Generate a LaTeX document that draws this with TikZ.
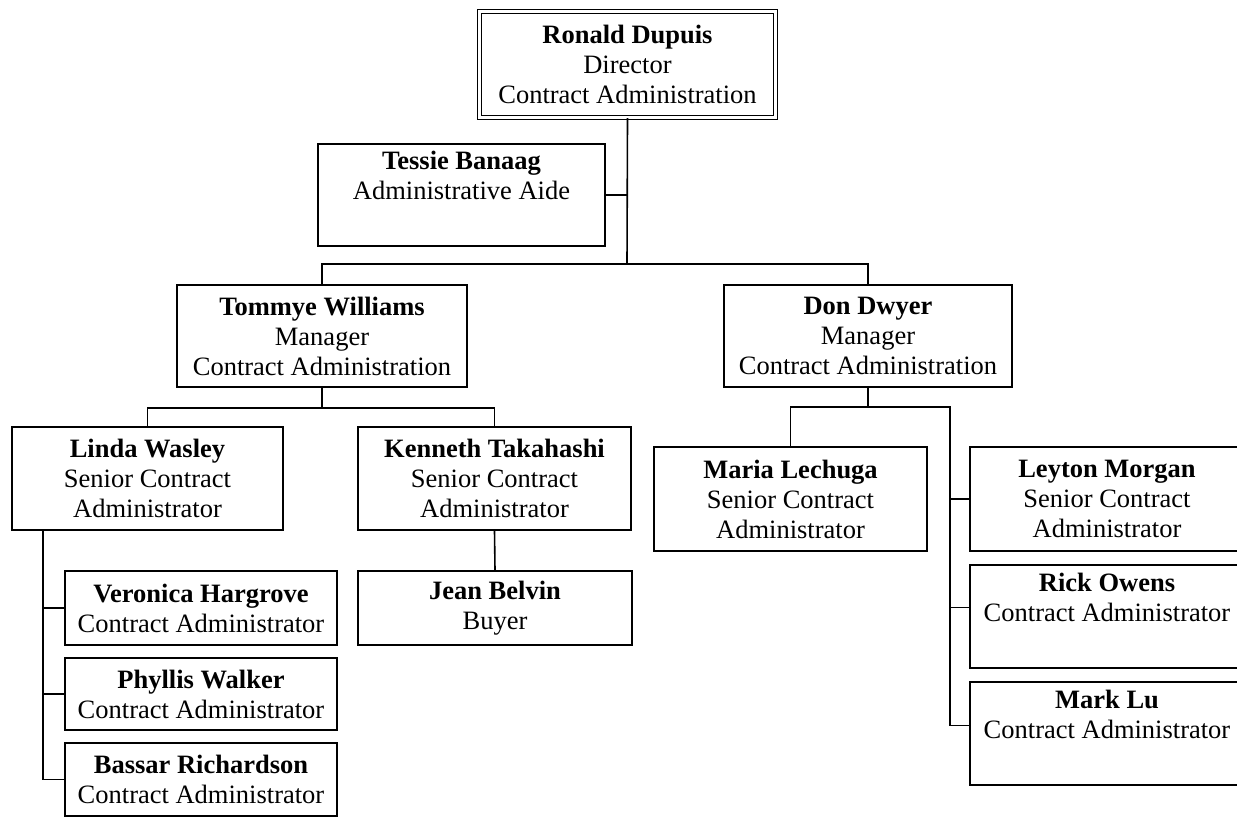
\documentclass[tikz,border=0pt]{standalone}
\usepackage{fontspec}
\setmainfont{Liberation Serif}
\usetikzlibrary{positioning}

\begin{document}
\begin{tikzpicture}[
    x=1pt, y=-1pt,
    every node/.style={font=\fontsize{26.5}{30}\selectfont},
    staffbox/.style={
        draw=black, fill=white, line width=1.6pt,
        align=center, inner sep=0pt
    },
    headbox/.style={
        staffbox, double, double distance=2.6pt, line width=1.4pt
    },
    linkline/.style={
        line width=1.6pt, black
    }
]
\useasboundingbox (0,0) rectangle (1237,817);

% Director and aide
\node[headbox, minimum width=296pt, minimum height=106pt] (ronald) at (627.5,64.5)
    {\textbf{Ronald Dupuis}\\Director\\Contract Administration};
\node[staffbox, minimum width=287pt, minimum height=102pt] (tessie) at (461.5,195)
    {\textbf{Tessie Banaag}\\Administrative Aide\\\strut};

% Managers
\node[staffbox, minimum width=290pt, minimum height=102pt] (tommye) at (322,336)
    {\textbf{Tommye Williams}\\Manager\\Contract Administration};
\node[staffbox, minimum width=288pt, minimum height=102pt] (don) at (868,336)
    {\textbf{Don Dwyer}\\Manager\\Contract Administration};

% Tommye Williams group (left)
\node[staffbox, minimum width=271pt, minimum height=103pt] (linda) at (147.5,478.5)
    {\textbf{Linda Wasley}\\Senior Contract\\Administrator};
\node[staffbox, minimum width=273pt, minimum height=103pt] (kenneth) at (494.5,478.5)
    {\textbf{Kenneth Takahashi}\\Senior Contract\\Administrator};
\node[staffbox, minimum width=274pt, minimum height=74pt] (jean) at (495,608)
    {\textbf{Jean Belvin}\\Buyer};
\node[staffbox, minimum width=272pt, minimum height=74pt] (veronica) at (201,608)
    {\textbf{Veronica Hargrove}\\Contract Administrator};
\node[staffbox, minimum width=272pt, minimum height=72pt] (phyllis) at (201,694)
    {\textbf{Phyllis Walker}\\Contract Administrator};
\node[staffbox, minimum width=272pt, minimum height=73pt] (bassar) at (201,779.5)
    {\textbf{Bassar Richardson}\\Contract Administrator};

% Don Dwyer group (right)
\node[staffbox, minimum width=273pt, minimum height=104pt] (maria) at (790.5,499)
    {\textbf{Maria Lechuga}\\Senior Contract\\Administrator};
\node[staffbox, minimum width=274pt, minimum height=104pt] (leyton) at (1107,499)
    {\textbf{Leyton Morgan}\\Senior Contract\\Administrator};
\node[staffbox, minimum width=274pt, minimum height=103pt] (rick) at (1107,616.5)
    {\textbf{Rick Owens}\\Contract Administrator\\\strut};
\node[staffbox, minimum width=274pt, minimum height=103pt] (mark) at (1107,733.5)
    {\textbf{Mark Lu}\\Contract Administrator\\\strut};

% Junction points
\coordinate (topbus)   at (627,264);
\coordinate (leftbus)  at (322,408);
\coordinate (lindastem) at (43,530);
\coordinate (donbus)   at (868,407);
\coordinate (donstem)  at (950,407);

% Connectors
\draw[linkline] (ronald.south) -- (topbus);
\draw[linkline] (tessie.east) -- (tessie.east -| topbus);
\draw[linkline] (tommye.north) |- (topbus) -| (don.north);

\draw[linkline] (tommye.south) -- (leftbus);
\draw[linkline] (linda.north) |- (leftbus) -| (kenneth.north);
\draw[linkline] (kenneth.south) -- (jean.north);
\draw[linkline] (lindastem) |- (bassar.west);
\draw[linkline] (veronica.west) -- (veronica.west -| lindastem);
\draw[linkline] (phyllis.west) -- (phyllis.west -| lindastem);

\draw[linkline] (don.south) -- (donbus);
\draw[linkline] (maria.north) |- (donstem) |- ([yshift=8pt]mark.west);
\draw[linkline] (leyton.west) -- (leyton.west -| donstem);
\draw[linkline] ([yshift=9pt]rick.west) -- ([yshift=9pt]rick.west -| donstem);

\end{tikzpicture}
\end{document}
